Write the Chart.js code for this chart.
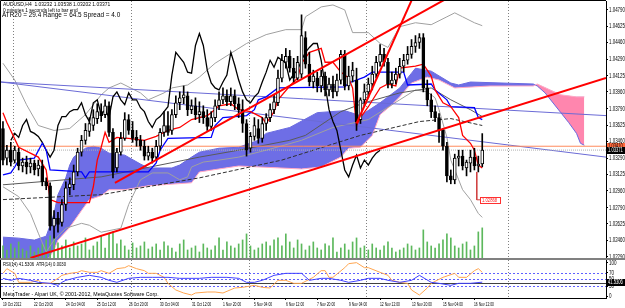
<!DOCTYPE html>
<html>
<head>
<meta charset="utf-8">
<script src="https://cdn.jsdelivr.net/npm/chart.js@4.4.0/dist/chart.umd.min.js"></script>
<style>
  body { margin: 0; background: #fff; width: 625px; height: 308px; overflow: hidden; position: relative; }
  canvas { position: absolute; left: 0; }
  #main { top: 0; }
  #sub { top: 258px; }
  .t { position: absolute; white-space: nowrap; color: #000; line-height: 1; transform-origin: 0 0;
       font-family: 'Liberation Sans', Arial, sans-serif; }
</style>
</head>
<body>
<canvas id="main" width="625" height="262"></canvas>
<canvas id="sub" width="625" height="50"></canvas>
<div class="t" style="left:3px;top:3px;font-size:8px;transform:scale(0.62,0.58)">AUDUSD,H4&nbsp; 1.03232 1.03538 1.03202 1.03371</div>
<div class="t" style="left:3px;top:8px;font-size:8px;transform:scale(0.6)">0 minutes 1 seconds left to bar end</div>
<div class="t" style="left:2px;top:12px;font-size:8px;transform:scale(0.8,0.85)">ATR20 = 29.4 Range = 64.5 Spread = 4.0</div>
<div class="t" style="left:3px;top:262px;font-size:8px;transform:scale(0.53,0.6)">RSI(14) 41.5306&nbsp; ATR(14) 0.0030</div>
<div class="t" style="left:3px;top:292px;font-size:8px;transform:scale(0.66,0.62)">MetaTrader - Alpari UK, © 2001-2012, MetaQuotes Software Corp.</div>
<script>
// ---- data (bar index 0 = 19 Oct 2012, H4 bars) ----
const priceTicks = [1.04790, 1.04625, 1.04460, 1.04290, 1.04125, 1.03960, 1.03790, 1.03625,
  1.03460, 1.03290, 1.03125, 1.02960, 1.02790, 1.02625, 1.02460, 1.02290];
const rsiTicks = [0, 30, 50, 70, 100];
const xTickBars = [0, 8, 16, 24, 32, 40, 48, 56, 64, 72, 80, 88, 96, 104, 112, 120];
const xTickLabels = ['19 Oct 2012', '22 Oct 20:00', '24 Oct 04:00', '25 Oct 12:00', '26 Oct 20:00',
  '30 Oct 04:00', '31 Oct 12:00', '1 Nov 20:00', '5 Nov 04:00', '6 Nov 12:00', '7 Nov 20:00',
  '9 Nov 04:00', '12 Nov 12:00', '13 Nov 20:00', '15 Nov 04:00', '16 Nov 12:00'];
const weekStarts = [2.5, 32.5, 62.5, 92.5, 128.5];

const opens = [1.0359,1.0329,1.0337,1.0327,1.0335,1.0321,1.0325,1.0320,1.0324,1.0318,
  1.0321,1.0305,1.0301,1.0260,1.0268,1.0264,1.0282,1.0299,1.0302,1.0315,
  1.0335,1.0347,1.0356,1.0362,1.0369,1.0376,1.0373,1.0382,1.0355,1.0319,
  1.0335,1.0349,1.0368,1.0357,1.0350,1.0347,1.0341,1.0331,1.0335,1.0330,
  1.0341,1.0355,1.0362,1.0357,1.0373,1.0385,1.0390,1.0392,1.0378,1.0382,
  1.0373,1.0376,1.0370,1.0361,1.0370,1.0382,1.0388,1.0392,1.0386,1.0392,
  1.0384,1.0378,1.0364,1.0339,1.0351,1.0359,1.0349,1.0364,1.0370,1.0378,
  1.0385,1.0410,1.0426,1.0432,1.0420,1.0410,1.0414,1.0451,1.0424,1.0406,
  1.0410,1.0402,1.0412,1.0398,1.0404,1.0396,1.0408,1.0434,1.0402,1.0412,
  1.0408,1.0368,1.0388,1.0396,1.0404,1.0414,1.0426,1.0434,1.0426,1.0404,
  1.0408,1.0414,1.0422,1.0428,1.0434,1.0442,1.0446,1.0451,1.0400,1.0388,
  1.0376,1.0370,1.0357,1.0341,1.0311,1.0307,1.0329,1.0331,1.0319,1.0324,
  1.0330,1.0321,1.03232];
const highs = [1.0366,1.0342,1.0345,1.0341,1.0339,1.0329,1.0331,1.0329,1.0327,1.0327,
  1.0327,1.0309,1.0304,1.0276,1.0274,1.0287,1.0305,1.0309,1.0322,1.0339,
  1.0352,1.0364,1.0370,1.0378,1.0384,1.0384,1.0388,1.0386,1.0359,1.0339,
  1.0355,1.0375,1.0373,1.0366,1.0357,1.0352,1.0347,1.0341,1.0339,1.0347,
  1.0359,1.0376,1.0376,1.0378,1.0392,1.0396,1.0402,1.0396,1.0388,1.0390,
  1.0386,1.0382,1.0378,1.0376,1.0388,1.0396,1.0400,1.0398,1.0400,1.0398,
  1.0390,1.0388,1.0368,1.0355,1.0370,1.0368,1.0370,1.0374,1.0384,1.0393,
  1.0418,1.0434,1.0440,1.0438,1.0430,1.0432,1.0474,1.0457,1.0436,1.0418,
  1.0416,1.0418,1.0416,1.0410,1.0412,1.0414,1.0438,1.0438,1.0422,1.0426,
  1.0420,1.0390,1.0404,1.0410,1.0422,1.0432,1.0444,1.0440,1.0430,1.0416,
  1.0420,1.0430,1.0434,1.0442,1.0449,1.0453,1.0455,1.0455,1.0408,1.0394,
  1.0382,1.0374,1.0359,1.0345,1.0317,1.0333,1.0337,1.0337,1.0327,1.0337,
  1.0339,1.0331,1.03538];
const lows = [1.0322,1.0322,1.0321,1.0324,1.0317,1.0315,1.0313,1.0314,1.0312,1.0311,
  1.0301,1.0297,1.0256,1.0248,1.0254,1.0260,1.0276,1.0292,1.0297,1.0311,
  1.0331,1.0343,1.0351,1.0357,1.0364,1.0366,1.0370,1.0351,1.0309,1.0315,
  1.0332,1.0347,1.0353,1.0345,1.0341,1.0337,1.0327,1.0327,1.0324,1.0327,
  1.0337,1.0351,1.0352,1.0353,1.0370,1.0378,1.0384,1.0372,1.0374,1.0368,
  1.0365,1.0364,1.0357,1.0357,1.0366,1.0378,1.0384,1.0382,1.0382,1.0378,
  1.0370,1.0355,1.0331,1.0335,1.0347,1.0344,1.0345,1.0357,1.0366,1.0374,
  1.0382,1.0406,1.0420,1.0416,1.0406,1.0408,1.0410,1.0420,1.0402,1.0400,
  1.0396,1.0396,1.0392,1.0392,1.0390,1.0392,1.0404,1.0398,1.0398,1.0406,
  1.0357,1.0364,1.0382,1.0390,1.0398,1.0410,1.0422,1.0422,1.0400,1.0400,
  1.0404,1.0410,1.0416,1.0424,1.0430,1.0436,1.0440,1.0396,1.0382,1.0370,
  1.0366,1.0345,1.0337,1.0305,1.0303,1.0303,1.0321,1.0317,1.0311,1.0315,
  1.0317,1.0315,1.03202];
const closes = [1.0327,1.0337,1.0325,1.0337,1.0321,1.0325,1.0320,1.0324,1.0317,1.0322,
  1.0305,1.0301,1.0260,1.0268,1.0262,1.0282,1.0299,1.0303,1.0315,1.0335,
  1.0347,1.0357,1.0364,1.0370,1.0376,1.0372,1.0382,1.0355,1.0315,1.0335,
  1.0349,1.0368,1.0357,1.0349,1.0347,1.0341,1.0331,1.0335,1.0329,1.0341,
  1.0355,1.0362,1.0355,1.0373,1.0385,1.0390,1.0393,1.0378,1.0382,1.0373,
  1.0376,1.0370,1.0361,1.0370,1.0382,1.0388,1.0392,1.0386,1.0392,1.0384,
  1.0378,1.0364,1.0337,1.0351,1.0362,1.0349,1.0364,1.0370,1.0378,1.0386,
  1.0410,1.0428,1.0432,1.0420,1.0410,1.0426,1.0453,1.0424,1.0406,1.0412,
  1.0402,1.0412,1.0398,1.0404,1.0396,1.0408,1.0434,1.0402,1.0412,1.0418,
  1.0366,1.0388,1.0396,1.0404,1.0414,1.0426,1.0434,1.0426,1.0404,1.0408,
  1.0414,1.0422,1.0428,1.0434,1.0442,1.0446,1.0451,1.0400,1.0388,1.0376,
  1.0370,1.0357,1.0341,1.0311,1.0307,1.0329,1.0331,1.0321,1.0325,1.0330,
  1.0321,1.0323,1.03371];
const volumes = [12,8,14,10,16,9,7,12,6,10, 14,18,22,20,15,12,18,10,16,12,
  14,20,8,12,16,22,10,24,26,14, 18,12,8,15,10,12,16,9,11,14,
  8,16,12,10,6,14,18,8,10,12, 6,14,10,8,12,20,8,16,12,10,
  14,18,24,12,8,10,14,16,12,18, 20,12,24,16,10,18,14,8,12,16,
  10,8,14,12,20,6,10,14,8,16, 20,10,12,8,14,10,8,12,16,10,
  6,8,10,14,12,8,10,28,16,12, 10,14,18,24,20,12,10,14,16,8,
  12,26,30];

// Ichimoku (bar, price)
const tenkan = [[0,1.0375],[1,1.0365],[4,1.0340],[9,1.0330],[11,1.0317],[12,1.0287],[14,1.0284],[22,1.0284],
  [23,1.0300],[24,1.0327],[25,1.0340],[26,1.0355],[27,1.0345],[29,1.0350],[32,1.0349],[36,1.0347],[39,1.0351],
  [42,1.0357],[45,1.0360],[48,1.0368],[52,1.0372],[53,1.0375],[55,1.0382],[58,1.0384],[60,1.0378],[63,1.0376],
  [66,1.0370],[67,1.0364],[69,1.0376],[70,1.0388],[73,1.0402],[75,1.0410],[76,1.0425],[78,1.0436],[81,1.0440],
  [82,1.0426],[84,1.0426],[86,1.0416],[88,1.0410],[89,1.0400],[90,1.0362],[91,1.0370],[93,1.0381],[96,1.0400],
  [98,1.0404],[100,1.0402],[101,1.0420],[105,1.0422],[107,1.0424],[109,1.0412],[110,1.0398],[112,1.0385],
  [114,1.0381],[116,1.0370],[117,1.0352],[119,1.0344],[120,1.0337],[121,1.0322],[122,1.0319]];
const kijun = [[0,1.0312],[2,1.0314],[3,1.0320],[4,1.0327],[8,1.0329],[10,1.0344],[11,1.0337],[12,1.0317],
  [20,1.0315],[21,1.0309],[22,1.0315],[37,1.0315],[39,1.0324],[40,1.0337],[42,1.0349],[53,1.0350],[54,1.0362],
  [56,1.0370],[62,1.0372],[64,1.0378],[65,1.0388],[67,1.0391],[70,1.0400],[87,1.0401],[88,1.0405],[92,1.0411],
  [94,1.0416],[102,1.0416],[103,1.0403],[109,1.0404],[110,1.0398],[113,1.0388],[114,1.0381],[120,1.0380],
  [121,1.0370],[122,1.0368]];
const chikouFirstBar = 2;
const chikou = [1.0347,1.0354,1.0350,1.0362,1.0368,1.0356,1.0354,1.0351,1.0345,1.0337,
  1.0330,1.0337,1.0362,1.0371,1.0371,1.0376,1.0378,1.0378,1.0385,1.0373,
  1.0366,1.0385,1.0388,1.0373,1.0378,1.0370,1.0391,1.0396,1.0388,1.0383,
  1.0395,1.0388,1.0388,1.0380,1.0376,1.0366,1.0360,1.0368,1.0371,1.0376,
  1.0381,1.0413,1.0436,1.0431,1.0426,1.0416,1.0415,1.0443,1.0455,1.0443,
  1.0418,1.0405,1.0400,1.0398,1.0406,1.0413,1.0436,1.0423,1.0408,1.0396,
  1.0388,1.0385,1.0391,1.0395,1.0406,1.0416,1.0428,1.0421,1.0431,1.0428,
  1.0425,1.0408,1.0414,1.0418,1.0428,1.0436,1.0441,1.0445,1.0445,1.0428,
  1.0403,1.0378,1.0366,1.0357,1.0337,1.0317,1.0310,1.0322,1.0332,1.0319,
  1.0327,1.0322,1.0329,1.0334,1.0337];
const spanA = [[0,1.0249],[4,1.0248],[8,1.0246],[11,1.0250],[12,1.0261],[13,1.0273],[14,1.0292],[16,1.0309],
  [17,1.0322],[18,1.0330],[21,1.0339],[23,1.0341],[25,1.0339],[27,1.0334],[31,1.0332],[35,1.0323],[37,1.0319],
  [43,1.0319],[45,1.0322],[48,1.0330],[50,1.0335],[55,1.0339],[60,1.0340],[65,1.0347],[67,1.0354],[73,1.0360],
  [80,1.0375],[87,1.0377],[91,1.0372],[96,1.0385],[101,1.0400],[104,1.0415],[105,1.0420],[109,1.0417],
  [114,1.0405],[116,1.0403],[119,1.0406],[135,1.0404],[136,1.0402],[138,1.0395],[142,1.0375],[144,1.0365],
  [146,1.0354],[147,1.0344],[148,1.0342]];
const spanB = [[0,1.0221],[11,1.0224],[13,1.0236],[14,1.0246],[17,1.0259],[20,1.0276],[22,1.0287],[25,1.0291],
  [27,1.0297],[31,1.0297],[37,1.0301],[48,1.0304],[50,1.0315],[60,1.0321],[76,1.0318],[81,1.0320],[86,1.0330],
  [88,1.0339],[91,1.0340],[94,1.0352],[96,1.0373],[99,1.0383],[101,1.0391],[104,1.0405],[108,1.0411],
  [111,1.0408],[115,1.0400],[124,1.0402],[135,1.0402],[136,1.0404],[142,1.0393],[146,1.0391],[148,1.0391]];

// Bollinger bands and moving averages (bar, price)
const bbUpper = [[0,1.0425],[3,1.0408],[6,1.0383],[9,1.0362],[13,1.0357],[17,1.0359],[21,1.0373],[25,1.0393],
  [27,1.0400],[30,1.0405],[35,1.0395],[37,1.0388],[41,1.0395],[43,1.0400],[47,1.0403],[50,1.0411],[54,1.0425],
  [58,1.0435],[62,1.0445],[67,1.0454],[72,1.0459],[76,1.0459],[77,1.0472],[81,1.0482],[84,1.0484],[87,1.0479],
  [89,1.0456],[93,1.0456],[96,1.0445],[98,1.0441],[101,1.0462],[105,1.0466],[109,1.0464],[113,1.0472],
  [115,1.0476],[117,1.0472],[120,1.0466],[122,1.0463]];
const bbLower = [[0,1.0300],[4,1.0290],[7,1.0273],[9,1.0253],[11,1.0234],[13,1.0246],[16,1.0258],[20,1.0263],
  [22,1.0261],[25,1.0254],[30,1.0258],[32,1.0282],[35,1.0307],[38,1.0314],[42,1.0314],[45,1.0307],[47,1.0310],
  [48,1.0320],[51,1.0325],[55,1.0327],[60,1.0330],[67,1.0337],[76,1.0347],[84,1.0360],[93,1.0368],[101,1.0388],
  [105,1.0398],[108,1.0396],[110,1.0390],[111,1.0378],[113,1.0350],[114,1.0327],[116,1.0307],[117,1.0297],
  [119,1.0287],[121,1.0273],[122,1.0269]];
const maSolid = [[0,1.0302],[25,1.0310],[50,1.0330],[60,1.0337],[73,1.0347],[77,1.0352],[86,1.0376],[92,1.0385],
  [101,1.0395],[109,1.0400],[114,1.0388],[119,1.0378],[122,1.0371]];
const maDashed = [[0,1.0287],[25,1.0292],[50,1.0309],[71,1.0327],[91,1.0352],[106,1.0366],[114,1.0369],[122,1.0362]];

// drawn objects (bar, price)
const trendRed = [
  [[7,1.0228],[153.5,1.0410]],
  [[28.5,1.0304],[115,1.0495]],
  [[90,1.0364],[104.5,1.0493]]
];
const trendSlate = [
  [[-0.5,1.0406],[153.5,1.0372]],
  [[-0.5,1.0406],[153.5,1.0330]]
];
const levelPrice = 1.0341;
const bidPrice = 1.03371;
const targetPrice = 1.02868;
const targetBar = 120.6;

// RSI panel (bar, value)
const rsi = [[0,53],[2,47],[4,53],[7,47],[9,41],[12,38],[14,32],[15,41],[16,47],[19,56],[22,62],[25,56],[27,47],
  [29,41],[32,53],[35,56],[38,56],[42,56],[45,53],[50,53],[53,56],[57,56],[60,53],[62,41],[64,41],[66,47],[69,62],
  [72,68],[76,68],[78,47],[81,53],[83,53],[86,47],[88,41],[91,47],[93,53],[96,53],[98,47],[101,41],[104,47],
  [106,62],[109,41],[111,38],[114,32],[116,38],[119,38],[122,41.5]];
const atr = [[0,68],[1,82],[3,68],[4,41],[7,41],[9,47],[10,38],[12,38],[14,53],[15,62],[17,68],[19,71],[20,76],
  [22,71],[24,71],[25,76],[27,68],[29,82],[31,85],[32,91],[34,82],[36,76],[37,68],[39,68],[41,56],[42,38],[44,18],
  [46,9],[48,3],[49,9],[52,12],[54,12],[56,9],[59,24],[61,26],[64,32],[66,26],[68,24],[70,47],[72,47],[74,38],
  [76,38],[79,56],[81,76],[82,76],[83,56],[84,56],[87,85],[88,97],[90,100],[92,85],[93,85],[96,71],[98,62],
  [99,47],[101,41],[103,38],[104,18],[106,3],[108,24],[109,38],[112,56],[115,68],[116,56],[118,56],[120,76],
  [121,82],[122,71]];
const rsiDotted = [70, 50, 30];
const rsiSolid = 40;
const rsiLast = 41.5306;

// ---- drawing ----
const X_MIN = -0.5, X_MAX = 153.5;
const FONT = "'Liberation Sans',Arial,sans-serif";
const pts = a => a.map(([x, y]) => ({x, y}));
const hline = p => [{x: X_MIN, y: p}, {x: X_MAX, y: p}];

function line(data, color, order, extra) {
  return Object.assign({type: 'line', data, borderColor: color, borderWidth: 1, pointRadius: 0,
    tension: 0, fill: false, order}, extra || {});
}

// narrow text: the terminal font is much narrower than anything installed
function narrowText(ctx, text, x, y, size, sx, color, baseline) {
  ctx.save();
  ctx.translate(x, y);
  ctx.scale(sx, 1);
  ctx.font = size + 'px ' + FONT;
  ctx.fillStyle = color;
  ctx.textAlign = 'left';
  ctx.textBaseline = baseline || 'middle';
  ctx.fillText(text, 0, 0);
  ctx.restore();
}

function axisBox(ctx, left, y, text, bg, fg) {
  const py = Math.round(y);
  ctx.fillStyle = bg;
  ctx.fillRect(left + 1, py - 3, 18, 7);
  narrowText(ctx, text, left + 2, py + 0.5, 6.5, 0.63, fg);
}

function yLabels(chart, values, fmt, size, sx) {
  const {ctx, chartArea: a, scales: {y}} = chart;
  values.forEach(v => narrowText(ctx, fmt(v), a.right + 3, Math.round(y.getPixelForValue(v)) + 0.5, size, sx, '#000'));
}

function drawSeparators(chart) {
  const {ctx, chartArea: a, scales: {x}} = chart;
  ctx.save();
  ctx.strokeStyle = '#808080';
  ctx.setLineDash([1, 2]);
  ctx.lineWidth = 1;
  weekStarts.forEach(b => {
    const px = Math.round(x.getPixelForValue(b)) + 0.5;
    ctx.beginPath(); ctx.moveTo(px, a.top); ctx.lineTo(px, a.bottom); ctx.stroke();
  });
  ctx.restore();
}

const mainDecor = {
  id: 'mainDecor',
  beforeDatasetsDraw(chart) { drawSeparators(chart); },
  afterDraw(chart) {
    const {ctx, chartArea: a, scales: {x, y}} = chart;
    ctx.save();
    ctx.strokeStyle = '#000';
    ctx.lineWidth = 1;
    ctx.beginPath();
    ctx.moveTo(a.left - 0.5, a.bottom); ctx.lineTo(a.left - 0.5, a.top - 0.5); ctx.lineTo(a.right, a.top - 0.5);
    ctx.stroke();
    yLabels(chart, priceTicks, v => v.toFixed(5), 7, 0.63);
    axisBox(ctx, a.right, y.getPixelForValue(levelPrice), levelPrice.toFixed(5), '#ff6a3d', '#000');
    axisBox(ctx, a.right, y.getPixelForValue(bidPrice), bidPrice.toFixed(5), '#000', '#fff');
    const tx = Math.round(x.getPixelForValue(targetBar)) + 3, ty = Math.round(y.getPixelForValue(targetPrice));
    ctx.fillStyle = '#fff';
    ctx.fillRect(tx, ty - 3, 21, 7);
    ctx.strokeStyle = '#ff3030';
    ctx.strokeRect(tx + 0.5, ty - 2.5, 20, 6);
    narrowText(ctx, targetPrice.toFixed(5), tx + 2, ty + 0.5, 6, 0.7, '#ff2020');
    ctx.restore();
  }
};

const subDecor = {
  id: 'subDecor',
  beforeDatasetsDraw(chart) {
    const {ctx, chartArea: a, scales: {y}} = chart;
    drawSeparators(chart);
    ctx.save();
    ctx.lineWidth = 1;
    ctx.strokeStyle = '#6060ff';
    ctx.setLineDash([2, 2]);
    rsiDotted.forEach(v => {
      const py = Math.round(y.getPixelForValue(v)) + 0.5;
      ctx.beginPath(); ctx.moveTo(a.left, py); ctx.lineTo(a.right, py); ctx.stroke();
    });
    ctx.setLineDash([]);
    ctx.strokeStyle = '#404040';
    const sy = Math.round(y.getPixelForValue(rsiSolid)) + 0.5;
    ctx.beginPath(); ctx.moveTo(a.left, sy); ctx.lineTo(a.right, sy); ctx.stroke();
    ctx.restore();
  },
  afterDraw(chart) {
    const {ctx, chartArea: a, scales: {x, y}} = chart;
    ctx.save();
    ctx.fillStyle = '#808080';
    ctx.fillRect(0, 0, 625, 2);
    ctx.strokeStyle = '#000';
    ctx.beginPath(); ctx.moveTo(a.left - 0.5, a.top); ctx.lineTo(a.left - 0.5, a.bottom); ctx.stroke();
    yLabels(chart, rsiTicks, v => String(v), 6.5, 0.7);
    xTickBars.forEach((b, i) => narrowText(ctx, xTickLabels[i], Math.round(x.getPixelForValue(b)),
      a.bottom + 3, 6, 0.56, '#000', 'top'));
    axisBox(ctx, a.right, y.getPixelForValue(rsiLast), rsiLast.toFixed(4), '#000', '#fff');
    ctx.restore();
  }
};

const candleBodies = opens.map((o, i) => ({x: i, y: [o, closes[i]]}));
const candleWicks = lows.map((l, i) => ({x: i, y: [l, highs[i]]}));
const bodyColors = opens.map((o, i) => closes[i] >= o ? '#ffffff' : '#000000');

const datasets = [
  line(pts(spanA), '#6a6ae0', 40, {fill: {target: '+1', above: '#6e6ee6', below: '#ff86ae'}}),
  line(pts(spanB), '#ffa8c4', 39),
  {type: 'bar', data: volumes.map((v, i) => ({x: i, y: v})), yAxisID: 'yv', backgroundColor: '#5cb85c',
    barThickness: 1, grouped: false, order: 38},
  line(pts(bbUpper), '#a0a0a0', 30),
  line(pts(bbLower), '#a0a0a0', 30),
  ...trendSlate.map(t => line(pts(t), '#6b6bd6', 29)),
  line(pts(maSolid), '#5a5a5a', 28),
  line(pts(maDashed), '#303030', 28, {borderDash: [4, 2]}),
  line(hline(levelPrice), '#ff8a5c', 27),
  line(hline(bidPrice), '#b0b0b0', 27, {borderDash: [1, 1]}),
  line(chikou.map((v, k) => ({x: chikouFirstBar + k, y: v})), '#000000', 20, {borderWidth: 1.3}),
  line(pts(kijun), '#0000ff', 19, {borderWidth: 1.3}),
  line(pts(tenkan), '#ff0000', 18, {borderWidth: 1.3}),
  {type: 'bar', data: candleWicks, backgroundColor: '#000', barThickness: 1, grouped: false, order: 12},
  {type: 'bar', data: candleBodies, backgroundColor: bodyColors, borderColor: '#000', borderWidth: 1,
    borderSkipped: false, barThickness: 3, minBarLength: 1, grouped: false, order: 11},
  ...trendRed.map(t => line(pts(t), '#ff0000', 5, {borderWidth: 2})),
  line([{x: targetBar, y: lows[lows.length - 2]}, {x: targetBar, y: targetPrice}, {x: targetBar + 1, y: targetPrice}],
    '#d04040', 4)
];

new Chart(document.getElementById('main'), {
  type: 'line',
  data: {datasets},
  options: {
    responsive: false, animation: false, devicePixelRatio: 1,
    layout: {padding: {left: 1, top: 1, right: 0, bottom: 4}},
    plugins: {legend: {display: false}, tooltip: {enabled: false}},
    scales: {
      x: {type: 'linear', min: X_MIN, max: X_MAX, offset: false, display: false},
      y: {
        position: 'right', min: 1.02279, max: 1.0488,
        afterBuildTicks: s => { s.ticks = priceTicks.map(v => ({value: v})); },
        afterFit: s => { s.width = 19; s.paddingTop = 0; s.paddingBottom = 0; },
        ticks: {display: false},
        grid: {drawOnChartArea: false, tickLength: 2, color: '#000'},
        border: {color: '#000'}
      },
      yv: {display: false, min: 0, max: 256}
    }
  },
  plugins: [mainDecor]
});

new Chart(document.getElementById('sub'), {
  type: 'line',
  data: {datasets: [
    line(pts(atr), '#ffa54f', 2),
    line(pts(rsi), '#4040ff', 1)
  ]},
  options: {
    responsive: false, animation: false, devicePixelRatio: 1,
    layout: {padding: {left: 1, top: 2, right: 0, bottom: 0}},
    plugins: {legend: {display: false}, tooltip: {enabled: false}},
    scales: {
      x: {
        type: 'linear', min: X_MIN, max: X_MAX, offset: false,
        afterBuildTicks: s => { s.ticks = xTickBars.map(v => ({value: v})); },
        afterFit: s => { s.height = 10; s.paddingLeft = 0; s.paddingRight = 0; },
        ticks: {display: false},
        grid: {drawOnChartArea: false, tickLength: 2, color: '#000'},
        border: {color: '#000'}
      },
      y: {
        position: 'right', min: -6, max: 108,
        afterBuildTicks: s => { s.ticks = rsiTicks.map(v => ({value: v})); },
        afterFit: s => { s.width = 19; s.paddingTop = 0; s.paddingBottom = 0; },
        ticks: {display: false},
        grid: {drawOnChartArea: false, tickLength: 2, color: '#000'},
        border: {color: '#000'}
      }
    }
  },
  plugins: [subDecor]
});
</script>
</body>
</html>
